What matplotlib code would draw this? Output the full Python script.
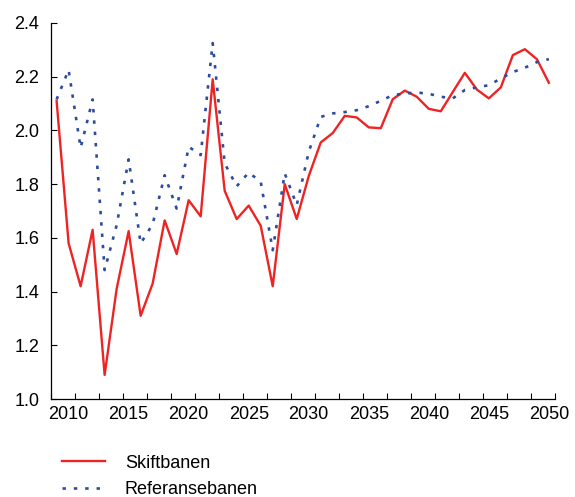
import matplotlib
matplotlib.use('Agg')
import matplotlib.pyplot as plt
from matplotlib.ticker import MultipleLocator, FixedLocator

plt.rcParams['font.family'] = ['Liberation Sans', 'DejaVu Sans']

years = list(range(2009, 2051))

# Skiftbanen (red line)
skift = [2.11, 1.58, 1.42, 1.63, 1.09, 1.41, 1.625, 1.31, 1.43, 1.665, 1.54,
         1.74, 1.68, 2.19, 1.775, 1.67, 1.72, 1.645, 1.42, 1.80, 1.67, 1.83,
         1.955, 1.99, 2.054, 2.048, 2.011, 2.008, 2.116, 2.148, 2.125, 2.08,
         2.071, 2.143, 2.214, 2.152, 2.119, 2.16, 2.28, 2.302, 2.265, 2.177]

# Referansebanen (blue dotted)
referanse = [2.115, 2.225, 1.935, 2.115, 1.48, 1.647, 1.892, 1.579, 1.651, 1.833,
             1.709, 1.939, 1.908, 2.325, 1.877, 1.792, 1.843, 1.809, 1.554, 1.84,
             1.722, 1.92, 2.05, 2.063, 2.068, 2.075, 2.09, 2.11, 2.131, 2.137,
             2.141, 2.136, 2.125, 2.119, 2.15, 2.16, 2.168, 2.193, 2.217, 2.233,
             2.254, 2.265]

fig = plt.figure(figsize=(5.75, 4.97), dpi=100)
ax = fig.add_axes([0.088, 0.197, 0.877, 0.757])

ax.plot(years, skift, color='#ee2424', lw=1.7, label='Skiftbanen')
ax.plot(years, referanse, color='#2d4c9f', lw=1.9, linestyle=(0, (1.3, 3.0)),
        dash_capstyle='butt', label='Referansebanen')

ax.set_xlim(2008.5, 2050.5)
ax.set_ylim(1.0, 2.4)
ax.xaxis.set_major_locator(FixedLocator(list(range(2010, 2051, 5))))
ax.xaxis.set_minor_locator(FixedLocator([2008.5 + 2 * i for i in range(22)]))
ax.yaxis.set_major_locator(MultipleLocator(0.2))
ax.yaxis.set_major_formatter(plt.FuncFormatter(lambda v, p: f'{v:.1f}'))

ax.tick_params(axis='x', which='major', length=0, labelsize=13, pad=5)
ax.tick_params(axis='x', which='minor', direction='in', length=4, width=0.8)
ax.tick_params(axis='y', direction='in', length=4, width=0.8, labelsize=13, pad=8)

for side in ('top', 'right'):
    ax.spines[side].set_visible(False)
for side in ('left', 'bottom'):
    ax.spines[side].set_linewidth(0.9)

fig.legend(loc='upper left', bbox_to_anchor=(0.107, 0.085), frameon=False,
           fontsize=13, handlelength=2.4, handletextpad=1.1, labelspacing=0.52,
           borderaxespad=0, borderpad=0)

fig.savefig('out.png', dpi=100)
